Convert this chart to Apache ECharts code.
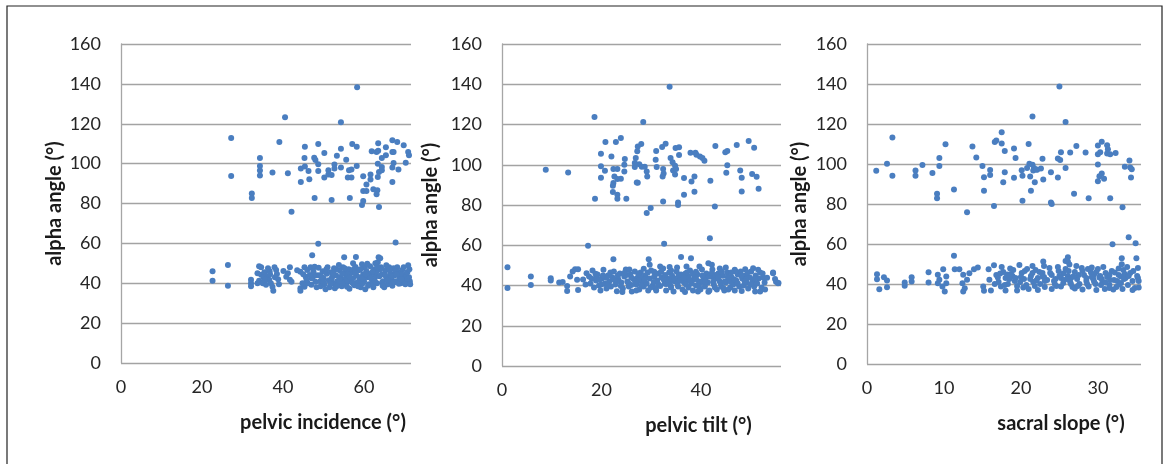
<!DOCTYPE html>
<html><head><meta charset="utf-8">
<script src="https://cdn.jsdelivr.net/npm/echarts@6/dist/echarts.min.js"></script>
<style>html,body{margin:0;padding:0;background:#fff}#c{width:1166px;height:464px}</style>
</head><body><div id="c"></div>
<script>
// ---- tick labels / titles ----
const yTitle = 'alpha angle (°)';
const xTitles = ['pelvic incidence (°)', 'pelvic tilt (°)', 'sacral slope (°)'];
const yTicks = [0, 20, 40, 60, 80, 100, 120, 140, 160];

// ---- panel 1: pelvic incidence vs alpha angle ----
const piUpper = [[58.3,138.3],[40.5,123.3],[54.3,120.8],[27.2,112.8],[39.1,110.8],[27.2,93.8],[32.3,85],[32.3,82.8],[34.3,102.8],[34.3,98.8],[34.3,96.6],[34.3,94],[37.4,95.6],[41.2,95.2],[42.1,75.8],[44.4,90.8],[44.4,97.5],[45.4,108.5],[45.3,102.8],[45.4,98.6],[46.3,96.3],[46.5,92.2],[47.7,103],[48,101.8],[48.7,109.8],[48.7,99.7],[48.7,96.3],[47.8,82.8],[50.2,105.3],[50.2,93],[51.2,96.7],[51.2,94.5],[52,94.3],[52,81.7],[52.7,99.5],[52.7,97.5],[53.3,104],[54.3,107.5],[54.3,98],[55.6,102],[56,93],[56.9,93],[56.3,96.7],[56.9,97],[56.5,82.8],[57.1,109.8],[58.2,108.5],[58.2,98.8],[59.8,93.7],[60.6,89.5],[59.8,86.3],[60.6,86.3],[59.8,81.3],[59.5,79.2],[61.6,94.5],[61.6,92],[61.9,106.2],[63.1,105.8],[63.5,110.2],[63.5,106.5],[62.3,87.2],[63.3,86.7],[63.1,84.7],[63.7,78.3],[63.4,100],[63.4,93.3],[63.7,95.8],[64.4,96.7],[64.4,98.3],[64.4,102.8],[65.4,104.2],[65.4,108.2],[67,111.7],[68.2,110.8],[67,105.8],[67.3,105.8],[67.3,100.3],[67,98],[68.5,97],[67,90.8],[69.8,109.2],[70.3,100.5],[70.9,105.8],[71.1,104.2]];
const piLower = [[22.6,46],[22.6,41.2],[26.4,49.2],[26.4,38.7],[32.1,41.7],[32.1,40],[32.1,38.5],[34.1,48.5],[34.6,48],[33.7,45],[34.6,44.3],[35.4,45.5],[36.1,43.3],[36.7,46],[37.9,48],[38.3,46.7],[38.5,44.7],[34.1,41.3],[35,40],[35.8,39.2],[36.6,41.7],[37.4,38.3],[37.6,36.3],[37,40],[33.7,40],[35.2,43],[36.3,47.5],[38.8,42],[41.7,48],[40.8,43.3],[41.7,41.7],[42.1,40.8],[41.2,45],[44.3,45.8],[45.3,48],[46,46.7],[46.8,48],[47.8,48.3],[44.3,37.5],[44.3,36.3],[45.3,38.3],[46.1,40],[47.4,43.3],[47,39.2],[48,40.8],[45.6,43.3],[47,42.5],[48.3,44],[48.8,47.8],[49,44],[49.2,41],[49.3,38.5],[49.8,46],[50,42.5],[50.2,39.5],[50.5,37],[50.8,44.8],[51,48],[51.3,41.5],[51.5,38],[51.9,45.5],[52.1,43],[52.3,40],[52.6,47.5],[52.8,37.5],[53.1,44],[53.4,41],[53.6,39],[54,46.5],[54.2,43],[54.5,38.5],[54.8,48],[55,41.5],[55.3,45],[55.6,39.5],[55.9,43.5],[56.2,47],[56.4,37.2],[56.7,41],[57,45.5],[57.3,42.5],[57.6,39],[57.9,48.2],[58.1,44],[58.4,40.5],[58.7,46.5],[59,42],[59.2,38],[59.5,49.5],[59.8,44.5],[60,41],[60.3,37],[60.6,46],[60.9,43],[61.2,39.5],[61.5,48.5],[61.8,45],[62,41.5],[62.3,38],[62.6,47],[62.9,43.5],[63.2,40],[63.4,50.5],[63.6,53],[64,52.5],[64.2,48],[64.4,44.5],[64.7,41],[65,38],[65.3,46.5],[65.6,43],[65.9,39.5],[66.2,48],[66.5,45],[66.8,42],[67,38.8],[67.3,47.5],[67.6,44],[67.9,41],[68.2,48],[68.5,45.5],[68.8,42.5],[69.1,40],[69.4,46.5],[69.7,43.5],[70,41],[70.3,44.5],[70.6,42],[70.9,49],[71.1,43],[71.3,41],[50.5,45.8],[53,47],[55.5,42.5],[57.5,47.2],[60.2,47.8],[62.8,50],[63,45.5],[65.5,49],[67.8,46],[61,44],[58.8,43],[56,44.5],[52,41.8],[50,40.5],[54.8,40.2],[59.7,40],[62.1,39.8],[64.5,40.5],[66.9,40.2],[69,44.6],[53.8,49.2],[57.3,50],[60.8,49.8],[58,53.2],[64,47],[48.7,59.8],[67.8,60.5],[47.2,54.1],[55.1,53],[55.8,41.5],[49.5,43.2],[50.7,47],[51.7,39.8],[52.4,45],[53.2,38.5],[53.9,42],[54.6,44.8],[55.2,47.5],[55.8,38.2],[56.5,43],[57.2,40],[57.8,45.2],[58.5,38.5],[59.1,47],[59.6,42.5],[60.4,44.5],[61,38.8],[61.6,42.8],[62.2,46],[62.7,41],[63.3,48],[63.8,43.5],[64.6,38.8],[65.2,44],[65.8,41.5],[66.3,46.8],[66.9,43.5],[67.5,40.5],[68,44.5],[68.6,39.8],[69.2,42],[69.8,48],[70.2,39.5],[70.7,45.5],[71.2,47],[71.4,39.5],[45,44.5],[45.8,41.8],[46.6,44.2],[47.5,46],[48.3,38],[44.8,40],[43.5,46.5],[38,43],[35.5,41.8],[36.8,44.5],[39,39.5],[40.1,46.2]];

// ---- panel 2: pelvic tilt vs alpha angle ----
const ptUpper = [[33.7,138.7],[18.6,123.7],[28.4,121.2],[13.3,96.2],[8.8,97.5],[18.7,83.1],[19.9,105.5],[20.8,111.3],[19.9,99.2],[19.9,93.5],[20.7,97],[22,104.1],[22.9,111.3],[23.9,113.3],[22.4,97.9],[23.2,97.9],[22.6,94.2],[23.2,92.9],[22.4,90.9],[22.3,89.6],[22.3,86.4],[23.2,85.1],[23.2,83.1],[23.9,93],[24.7,102.8],[24.6,100],[24.6,96.7],[25,83.1],[26.7,98.9],[26.7,100.9],[26.9,103.4],[27.2,106.7],[27.3,109.1],[28,110.3],[27.6,100.2],[28.1,99],[28.7,99],[29.1,96.7],[29.2,94.2],[27.1,91.2],[27.3,91],[29.1,76],[29.9,78.5],[31,106.8],[30.9,102.5],[31.1,98.9],[32.2,108.8],[32.9,110.4],[32.4,97.9],[32.5,95.6],[32.3,94.2],[32.4,81.8],[33.9,103.3],[34.3,101.2],[34.8,99.5],[34.4,97.2],[35,97.9],[34.8,95.1],[34.9,108.3],[35.6,108.7],[35.6,104.8],[35.4,81.3],[35.4,80],[36.6,85.1],[36.6,93.4],[38.7,94.2],[38.1,91.7],[38.7,86.6],[37.9,106],[38.9,106],[39.1,105],[39.8,104.1],[40.3,103.3],[40.7,102],[41.9,92.1],[42.8,79.3],[42.9,109.3],[44.9,106.2],[45.3,106.8],[45.3,99.8],[45.1,96],[47.2,109.8],[47.9,97.2],[48.2,93.5],[48.2,86.7],[49.6,111.8],[50.7,108.5],[50.3,95.4],[51.2,94],[51.6,88.1]];
const ptLower = [[1.1,49.1],[1.1,38.7],[5.8,44.5],[5.8,40.3],[9.8,43.6],[9.8,42.5],[11.5,41.5],[12.2,41.8],[13.1,39.8],[13.1,37.3],[13.7,44.5],[14.2,47],[14.7,48.1],[15.3,48.1],[15.1,42.8],[15.3,37.8],[17,46.1],[17.3,59.7],[22.4,53.1],[32.6,60.7],[36,54.2],[38,53.6],[41.8,63.5],[41.5,51.1],[42.2,50.3],[29.5,53.1],[29.7,50.3],[46.8,47.8],[48.9,48.1],[50.5,48.6],[50.9,37],[51.9,37],[54.5,46.5],[54.9,43.2],[55.6,41.2],[54.5,46.1],[55.1,41.9],[55.5,41.1],[16.3,43],[16.8,40.5],[17.5,44.5],[17.8,41],[18.2,47.5],[18.5,39],[18.9,42.5],[19.2,45.5],[19.5,40],[19.8,37.5],[20.1,43.5],[20.4,47.8],[20.7,41],[21,38.5],[21.3,45],[21.6,42],[21.9,39.5],[22.2,44],[22.5,47],[22.8,40.5],[23.1,37.2],[23.4,43],[23.7,46],[24,41.5],[24.3,38.5],[24.6,44.5],[24.9,48],[25.2,42],[25.5,39.5],[25.8,45.5],[26.1,37],[26.4,43.2],[26.7,47],[27,40.5],[27.3,44],[27.6,38],[27.9,46.5],[28.2,42],[28.5,39.5],[28.8,45],[29.1,41],[29.4,37.5],[29.7,43.5],[30,47.5],[30.3,40],[30.6,44.5],[30.9,38.5],[31.2,42.5],[31.5,46],[31.8,39.8],[32.1,44],[32.4,48.5],[32.7,41],[33,37.5],[33.3,43.5],[33.6,46.5],[33.9,40],[34.2,44.8],[34.5,37],[34.8,42],[35.1,47],[35.4,39.5],[35.7,43.5],[36,45.5],[36.3,38],[36.6,41.5],[36.9,46],[37.2,43],[37.5,39],[37.8,47.5],[38.1,41],[38.4,37.5],[38.7,44],[39,40],[39.3,45.5],[39.6,42],[39.9,38],[40.2,48],[40.5,43],[40.8,39.5],[41.1,46],[41.4,41.5],[41.7,37.5],[42,44.5],[42.3,48],[42.6,40.5],[42.9,43.5],[43.2,38],[43.5,46],[43.8,42],[44.1,39.5],[44.4,44.8],[44.7,37.5],[45,41.5],[45.3,46.5],[45.6,43],[45.9,39],[46.2,44],[46.5,40.5],[46.8,37.5],[47.1,42.5],[47.4,45.5],[47.7,39.5],[48,47],[48.3,43.5],[48.6,40],[48.9,45],[49.2,41.5],[49.5,38.5],[49.8,44],[50.1,47],[50.4,42],[50.7,39.5],[51,45],[51.3,41],[51.6,43.5],[51.9,46.5],[52.2,39],[52.5,44],[52.8,41.5],[21,43.8],[23,41.8],[25,45.2],[26,40.2],[28,43.8],[30.5,41.8],[31,45.8],[33,40.8],[34,42.5],[35.5,45],[37,40.5],[38.5,42.8],[40,41.5],[41,43.8],[43,45.2],[44,41],[45.5,38],[47,47],[28.5,48.3],[31.8,49.5],[35.2,49],[39.7,49.5],[43.8,48.5],[24.2,36.8],[36.8,36.8],[41.5,36.9],[27.5,42.5],[32.5,43],[37.5,44.5],[42.5,42],[46,41.8],[49,42.8],[19,44],[20,40.5],[34,39],[39,43.5],[18,43.5],[18.8,45.8],[19.6,42.8],[20.3,45],[21.2,40],[21.8,46.5],[22.6,42.8],[23.3,45],[23.9,39.8],[24.7,46.5],[25.4,41.2],[26,44],[26.8,42],[27.4,46],[28,40],[28.7,42.8],[29.3,46.5],[29.9,39],[30.6,46.8],[31.4,40.8],[32,46.8],[32.8,45.2],[33.4,41],[34,47.5],[34.6,43.5],[35.3,41],[35.9,42.5],[36.5,44],[37.2,46.5],[37.8,42.3],[38.4,45.8],[39,46.8],[39.6,39.5],[40.3,45],[40.9,41.8],[41.6,44.5],[42.2,46.2],[42.8,39],[43.5,43.8],[44.2,47],[44.8,42],[45.4,44.2],[46.1,46.5],[46.7,43],[47.4,41],[48.1,45],[48.8,42],[49.4,46.5],[50,40.5],[50.8,43.5],[51.5,47.8],[52.4,46],[52.9,38],[53.3,43.8],[25.6,48],[33.7,49.2],[37.1,49.5],[45,49],[27,37.5],[31,37.5],[39.4,37],[44.5,38.8],[48.2,37.3]];

// ---- panel 3: sacral slope vs alpha angle ----
const ssUpper = [[25,138.7],[21.5,123.7],[25.8,121],[3.3,113.3],[1.2,96.6],[2.6,100.1],[3.3,94.1],[6.3,96.7],[6.3,94.1],[7.2,99.5],[8.5,95.5],[9.1,85.1],[9.1,82.9],[9.4,103],[9.4,99],[10.2,109.9],[11.3,87.2],[13,75.9],[13.7,108.7],[14.2,103.2],[15,99],[16,97],[16,94.5],[15.2,93.4],[15.2,86.6],[16.5,79],[16.6,111],[16.8,111.8],[17.5,115.9],[17.5,110.2],[17.9,106.5],[17.9,95.9],[17.7,90.9],[19.1,107.7],[19.3,103],[19.1,93.1],[20.2,94.1],[20.1,96.9],[20.2,81.6],[21,110],[20.8,98],[21.1,100.1],[21.5,99.6],[21.7,98],[22.1,97.1],[21.6,96.8],[22,97.3],[22.6,97.8],[21.2,93.7],[21.8,90.9],[21.3,86.6],[22.8,102.6],[22.9,92.3],[23.9,80.8],[24,80],[23.9,95.9],[24.8,102.7],[25.1,102],[25.2,105.9],[24.8,93.2],[25.8,98],[26.4,105.7],[26.9,85.1],[27.2,109],[28.4,105.7],[28.8,82.9],[30,109.2],[30.5,111.1],[31.2,109.4],[31.3,107.4],[31.2,105.2],[31.6,104.9],[32.3,105.5],[30,104.9],[30.3,105.9],[30,99.7],[30,91.4],[30.2,93.9],[30.5,95.2],[30.8,92.6],[31.6,82.9],[33.2,78.4],[33.5,98.6],[34.1,101.7],[34.2,98.2],[34.4,97.4],[34.3,93.2]];
const ssLower = [[31.9,59.9],[34,63.4],[34.9,60.4],[11.3,54.1],[26.1,53.4],[26.1,51.3],[22.9,51.2],[33.1,52.9],[33.1,49.9],[35,52.9],[1.3,44.9],[1.3,42.4],[1.6,37.4],[2.2,43.4],[2.6,41.7],[2.6,38.4],[4.9,40.8],[4.9,39.1],[5.8,43.4],[5.8,41.2],[8,45.9],[8,40.8],[9.2,44.6],[9.4,42.1],[9.2,40.4],[9.8,38.8],[10.1,36.3],[9.9,47.4],[10.3,43.8],[10.3,40.4],[11.4,47.4],[12,47.4],[12.5,44.6],[12.4,40.4],[12.7,37.9],[12.5,36.3],[13,42.1],[13.3,45.4],[13.9,47.4],[14.4,48.2],[15.1,38.8],[15.2,36.6],[15.8,47.4],[16.5,49.4],[15.9,42.1],[16.1,36.8],[16.8,44.5],[17.1,41],[17.4,38.8],[17.7,46],[18,43],[18.3,40],[18.6,47.8],[18.9,44],[19.2,41.5],[19.5,39],[19.8,49.5],[20.1,45.5],[20.4,42.5],[20.7,39.5],[21,37.5],[21.3,44],[21.6,41],[21.9,47],[22.2,43],[22.5,40],[22.8,45.5],[23.1,38.5],[23.4,42],[23.7,48],[24,44.5],[24.3,41.5],[24.6,39],[24.9,46.5],[25.2,43],[25.5,40.5],[25.8,47.5],[26.1,44],[26.4,41],[26.7,38.5],[27,46],[27.3,42.5],[27.6,40],[27.9,48],[28.2,44.5],[28.5,41.5],[28.8,38.8],[29.1,45.8],[29.4,42.5],[29.7,40],[30,47.5],[30.3,44],[30.6,41],[30.9,37.5],[31.2,43.5],[31.5,39.5],[31.8,46.5],[32.1,42],[32.4,38.5],[32.7,44.5],[33,40.5],[33.3,47],[33.6,43],[33.9,39.5],[34.2,45.5],[34.5,41.5],[34.8,38],[35.1,44],[35.2,48],[35.3,41.5],[17,43.2],[18.5,42.5],[20,43.5],[21.5,45.5],[23,43.5],[24.5,42.5],[25.5,45.2],[26.5,43],[27.5,44.5],[28.5,43],[29.5,44.8],[30.5,42.5],[31.5,44.5],[32.5,41.5],[33.5,45],[24.8,48.5],[26.3,49.8],[28.7,47.5],[30.7,48.5],[19.5,36.8],[22.2,37],[29.8,37],[32,37.2],[34.5,37],[27,37.8],[17.5,48.5],[23,49],[25.8,51.5],[26.5,40],[22,41.8],[31,40.8],[33,43.8],[20.8,47.5],[18,36.8],[16.6,40],[17.3,45.2],[17.9,39.5],[18.7,45],[19.3,43],[19.9,41],[20.5,46.5],[21.2,42.5],[21.8,39],[22.4,46],[23.1,41.5],[23.8,45.5],[24.4,40],[25,44],[25.6,42],[26.2,46.5],[26.8,43.8],[27.4,39],[28,46.5],[28.6,40],[29.2,43.5],[29.8,46],[30.4,39.5],[31,45.5],[31.6,42],[32.2,45.8],[32.8,39.8],[33.4,42.5],[34,44],[34.6,46.5],[35.2,43],[35.3,38.2],[33.8,48.5],[27.2,49],[29.2,48.3],[21.5,49],[19,47],[24,37.5],[28,37.2],[31.5,38],[33.2,37.5],[30.2,43.2],[26,42.5],[22.8,43.8],[18.2,44.8],[20.3,38.2],[25.2,38.8],[29.5,41.2],[32.7,47.8]];

const panels = [
  {data: piUpper.concat(piLower), xMax: 71.6, xInterval: 20, grid: {left: 121, top: 44, width: 290, height: 319}, yGap: 56},
  {data: ptUpper.concat(ptLower), xMax: 56.1, xInterval: 20, grid: {left: 502, top: 44, width: 279, height: 322}, yGap: 61},
  {data: ssUpper.concat(ssLower), xMax: 35.6, xInterval: 10, grid: {left: 867, top: 44, width: 274, height: 320}, yGap: 57}
];

const FONT = 'Lato';
const grid = [], xAxis = [], yAxis = [], series = [];
panels.forEach((p, i) => {
  grid.push(Object.assign({containLabel: false}, p.grid));
  xAxis.push({
    type: 'value', gridIndex: i, min: 0, max: p.xMax, interval: p.xInterval,
    name: xTitles[i], nameLocation: 'middle', nameGap: 50,
    nameTextStyle: {fontFamily: FONT, fontWeight: 'bold', fontSize: 20, color: '#1a1a1a', padding: [0, 0, 0, 114]},
    axisLine: {show: false}, axisTick: {show: false}, splitLine: {show: false},
    axisLabel: {fontFamily: FONT, fontSize: 18, color: '#262626', margin: 15, showMaxLabel: false}
  });
  yAxis.push({
    type: 'value', gridIndex: i, min: yTicks[0], max: yTicks[yTicks.length - 1], interval: 20,
    name: yTitle, nameLocation: 'middle', nameGap: p.yGap,
    nameTextStyle: {fontFamily: FONT, fontWeight: 'bold', fontSize: 20, color: '#1a1a1a'},
    axisLine: {show: true, lineStyle: {color: '#a6a6a6', width: 1.3}},
    axisTick: {show: false},
    splitLine: {show: true, lineStyle: {color: '#a3a3a3', width: 1.3}},
    axisLabel: {fontFamily: FONT, fontSize: 18, color: '#262626', margin: 20}
  });
  series.push({
    type: 'scatter', xAxisIndex: i, yAxisIndex: i, data: p.data,
    symbolSize: 6, itemStyle: {color: '#4a7ec0', opacity: 1}, silent: true, clip: true
  });
});

const chart = echarts.init(document.getElementById('c'), null, {renderer: 'canvas'});
chart.setOption({
  animation: false,
  backgroundColor: '#ffffff',
  grid, xAxis, yAxis, series,
  graphic: [{type: 'rect', shape: {x: 7, y: 6, width: 1155, height: 470}, style: {fill: 'none', stroke: '#222', lineWidth: 1.2}, silent: true}]
});
</script></body></html>
